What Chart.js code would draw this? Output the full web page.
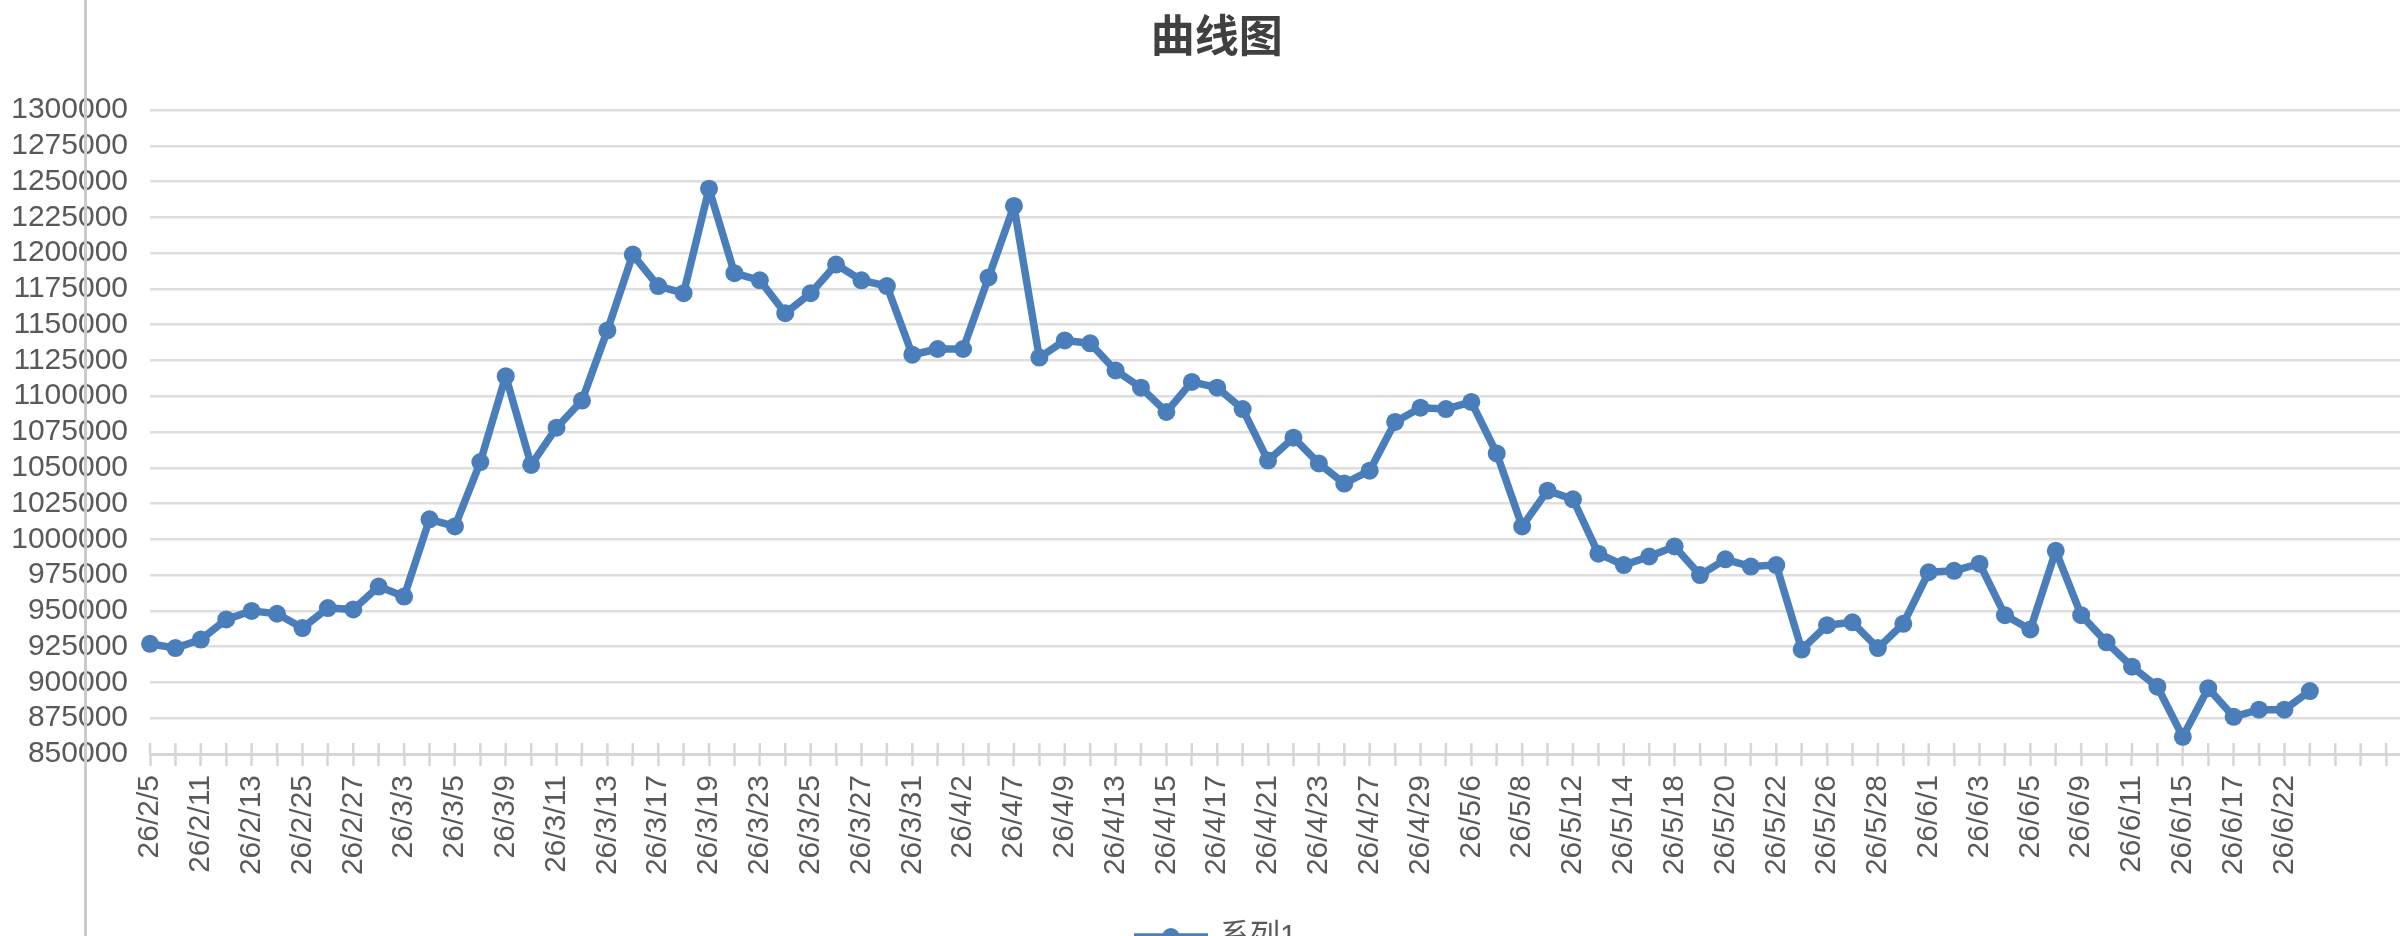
<!DOCTYPE html>
<html>
<head>
<meta charset="utf-8">
<title>曲线图</title>
<script src="https://cdn.jsdelivr.net/npm/chart.js@4.4.1/dist/chart.umd.min.js"></script>
<style>
    html, body { margin: 0; padding: 0; background: #fff; overflow: hidden; width: 2400px; height: 936px; }
    #wrap { position: relative; width: 2400px; height: 936px; overflow: hidden; }
    #myChart { position: absolute; left: 0; top: 0; }
    #edge { position: absolute; left: 84px; top: 0; width: 3px; height: 936px; background: #cacaca; }
</style>
</head>
<body>
<div id="wrap">
    <canvas id="myChart" width="2440" height="980"></canvas>
    <div id="edge"></div>
</div>
<script>
// dates (yy/m/d), one per trading day
var dates = [
    '26/2/5', '26/2/10', '26/2/11', '26/2/12', '26/2/13', '26/2/24', '26/2/25', '26/2/26', '26/2/27', '26/3/2',
    '26/3/3', '26/3/4', '26/3/5', '26/3/6', '26/3/9', '26/3/10', '26/3/11', '26/3/12', '26/3/13', '26/3/16',
    '26/3/17', '26/3/18', '26/3/19', '26/3/20', '26/3/23', '26/3/24', '26/3/25', '26/3/26', '26/3/27', '26/3/30',
    '26/3/31', '26/4/1', '26/4/2', '26/4/3', '26/4/7', '26/4/8', '26/4/9', '26/4/10', '26/4/13', '26/4/14',
    '26/4/15', '26/4/16', '26/4/17', '26/4/20', '26/4/21', '26/4/22', '26/4/23', '26/4/24', '26/4/27', '26/4/28',
    '26/4/29', '26/4/30', '26/5/6', '26/5/7', '26/5/8', '26/5/11', '26/5/12', '26/5/13', '26/5/14', '26/5/15',
    '26/5/18', '26/5/19', '26/5/20', '26/5/21', '26/5/22', '26/5/25', '26/5/26', '26/5/27', '26/5/28', '26/5/29',
    '26/6/1', '26/6/2', '26/6/3', '26/6/4', '26/6/5', '26/6/8', '26/6/9', '26/6/10', '26/6/11', '26/6/12',
    '26/6/15', '26/6/16', '26/6/17', '26/6/18', '26/6/22', '26/6/23'
];

// empty rows left in the sheet after the last date
var emptyRows = ['', '', '', ''];

var series1 = [
    927000, 924000, 930000, 944000, 950000, 948000, 938000, 952000, 951000, 967000,
    960000, 1014000, 1009000, 1054000, 1114000, 1052000, 1078000, 1097000, 1146000, 1199000,
    1177000, 1172000, 1245000, 1186000, 1181000, 1158000, 1172000, 1192000, 1181000, 1177000,
    1129000, 1133000, 1133000, 1183000, 1233000, 1127000, 1139000, 1137000, 1118000, 1106000,
    1089000, 1110000, 1106000, 1091000, 1055000, 1071000, 1053000, 1039000, 1048000, 1082000,
    1092000, 1091000, 1096000, 1060000, 1009000, 1034000, 1028000, 990000, 982000, 988000,
    995000, 975000, 986000, 981000, 982000, 923000, 940000, 942000, 924000, 941000,
    977000, 978000, 983000, 947000, 937000, 992000, 947000, 928000, 911000, 897000,
    862000, 896000, 876000, 881000, 881000, 894000
];

var seriesName = '系列1';
var chartTitle = '曲线图';
var yMin = 850000;
var yMax = 1300000;
var yStep = 25000;

var lineColor = '#4a7ebb';
var gridColor = '#dedede';
var axisColor = '#d6d6d6';
var textColor = '#595959';

Chart.defaults.font.family = '"Liberation Sans", "Noto Sans CJK SC", sans-serif';
Chart.defaults.color = textColor;

// legend mark: short line with a dot, like the series style
var legendMark = document.createElement('canvas');
legendMark.width = 74;
legendMark.height = 20;
(function () {
    var c = legendMark.getContext('2d');
    c.strokeStyle = lineColor;
    c.fillStyle = lineColor;
    c.lineWidth = 7.5;
    c.beginPath();
    c.moveTo(0, 10);
    c.lineTo(74, 10);
    c.stroke();
    c.beginPath();
    c.arc(37, 10, 9, 0, Math.PI * 2);
    c.fill();
})();

// tick marks on the category axis cross the axis line
var crossTicks = {
    id: 'crossTicks',
    beforeDatasetsDraw: function (chart) {
        var xs = chart.scales.x;
        var c = chart.ctx;
        c.save();
        c.strokeStyle = axisColor;
        c.lineWidth = 2.5;
        c.beginPath();
        for (var i = 0; i < xs.ticks.length; i++) {
            var px = xs.getPixelForTick(i);
            c.moveTo(px, xs.top - 11);
            c.lineTo(px, xs.top);
        }
        c.stroke();
        c.restore();
    }
};

// title and legend sit a little right of the canvas centre in the original
var nudgeBlocks = {
    id: 'nudgeBlocks',
    afterLayout: function (chart) {
        [chart.titleBlock, chart.legend].forEach(function (box) {
            if (box) {
                box.left += 11;
                box.right += 11;
            }
        });
    }
};

var ctx = document.getElementById('myChart');

new Chart(ctx, {
    type: 'line',
    data: {
        labels: dates.concat(emptyRows),
        datasets: [{
            label: seriesName,
            data: series1,
            borderColor: lineColor,
            backgroundColor: lineColor,
            borderWidth: 7.5,
            borderJoinStyle: 'round',
            borderCapStyle: 'round',
            pointRadius: 9,
            pointBorderWidth: 0,
            pointBackgroundColor: lineColor,
            tension: 0,
            fill: false
        }]
    },
    options: {
        responsive: false,
        animation: false,
        layout: {
            padding: { left: 0, right: 28.5, top: 0, bottom: 18 }
        },
        plugins: {
            title: {
                display: true,
                text: chartTitle,
                color: '#404040',
                font: { size: 44, weight: 'bold', family: '"Noto Sans CJK SC", sans-serif' },
                padding: { top: 9, bottom: 48.2 }
            },
            legend: {
                position: 'bottom',
                labels: {
                    usePointStyle: true,
                    pointStyleWidth: 68,
                    padding: 10,
                    color: textColor,
                    font: { size: 30 },
                    generateLabels: function (chart) {
                        var items = Chart.defaults.plugins.legend.labels.generateLabels(chart);
                        items.forEach(function (item) {
                            item.pointStyle = legendMark;
                        });
                        return items;
                    }
                }
            },
            tooltip: { enabled: false }
        },
        scales: {
            x: {
                offset: false,
                afterFit: function (scale) {
                    scale.height = 158;
                    scale.paddingLeft = 0;
                    scale.paddingRight = 0;
                },
                grid: {
                    drawOnChartArea: false,
                    drawTicks: true,
                    tickLength: 12,
                    tickColor: axisColor,
                    tickWidth: 2.5
                },
                border: { display: true, color: axisColor, width: 3 },
                ticks: {
                    autoSkip: false,
                    minRotation: 90,
                    maxRotation: 90,
                    padding: 9,
                    color: textColor,
                    font: { size: 30 },
                    callback: function (value, index) {
                        return index % 2 === 0 ? this.getLabelForValue(value) : '';
                    }
                }
            },
            y: {
                min: yMin,
                max: yMax,
                afterFit: function (scale) {
                    scale.width = 150;
                },
                grid: {
                    color: gridColor,
                    lineWidth: 2.5,
                    drawTicks: false
                },
                border: { display: false },
                ticks: {
                    stepSize: yStep,
                    autoSkip: false,
                    padding: 22,
                    color: textColor,
                    font: { size: 30 },
                    callback: function (value) {
                        return String(value);
                    }
                }
            }
        }
    },
    plugins: [crossTicks, nudgeBlocks]
});
</script>
</body>
</html>
